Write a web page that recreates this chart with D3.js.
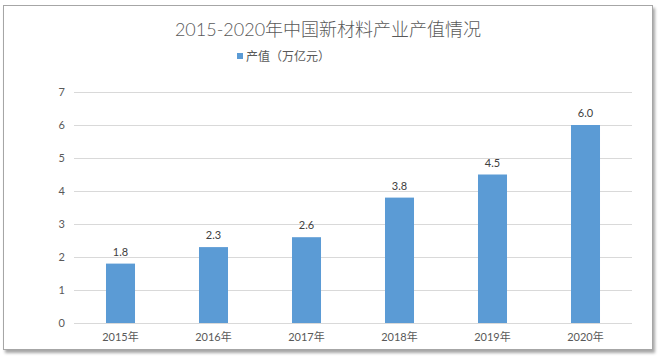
<!DOCTYPE html>
<html>
<head>
<meta charset="utf-8">
<script src="https://cdn.jsdelivr.net/npm/d3@7"></script>
<style>
  body { margin: 0; background: #fff; }
  svg { display: block; font-family: "Lato", "Noto Sans CJK SC", sans-serif; }
</style>
</head>
<body>
<div id="chart"></div>
<script>
// Chart data
const years = ["2015年", "2016年", "2017年", "2018年", "2019年", "2020年"];
const values = [1.8, 2.3, 2.6, 3.8, 4.5, 6.0];
const yTicks = [0, 1, 2, 3, 4, 5, 6, 7];
const title = "2015-2020年中国新材料产业产值情况";
const seriesName = "产值（万亿元）";

const width = 659, height = 361;
const margin = { left: 74, right: 27, top: 92, bottom: 38 };

const svg = d3.select("#chart").append("svg")
    .attr("width", width)
    .attr("height", height);

// Frame with shadow
const defs = svg.append("defs");
const shadow = defs.append("filter").attr("id", "shadow")
    .attr("x", "-5%").attr("y", "-5%").attr("width", "110%").attr("height", "115%");
shadow.append("feDropShadow")
    .attr("dx", 2).attr("dy", 3).attr("stdDeviation", 1.5)
    .attr("flood-color", "#000").attr("flood-opacity", 0.35);

svg.append("rect")
    .attr("x", 3.5).attr("y", 5.5)
    .attr("width", 649).attr("height", 344)
    .attr("fill", "#fff")
    .attr("stroke", "#a6a6a6")
    .attr("stroke-width", 1)
    .attr("filter", "url(#shadow)");

// Scales
const x = d3.scaleBand()
    .domain(years)
    .range([margin.left, width - margin.right])
    .paddingInner(0.688)
    .paddingOuter(0.344);

const y = d3.scaleLinear()
    .domain([0, 7])
    .range([height - margin.bottom, margin.top]);

// Gridlines
svg.append("g")
    .selectAll("line")
    .data(yTicks)
    .enter().append("line")
    .attr("x1", margin.left)
    .attr("x2", width - margin.right)
    .attr("y1", d => Math.round(y(d)) + 0.5)
    .attr("y2", d => Math.round(y(d)) + 0.5)
    .attr("stroke", "#d9d9d9")
    .attr("stroke-width", 1);

// Y axis labels
const yAxis = d3.axisLeft(y).tickValues(yTicks).tickFormat(d3.format("d")).tickSize(0).tickPadding(9);
svg.append("g")
    .attr("transform", `translate(${margin.left},0)`)
    .call(yAxis)
    .call(g => g.select(".domain").remove())
    .selectAll("text")
    .attr("fill", "#595959")
    .style("font-size", "11px")
    .style("font-family", "Lato, 'Noto Sans CJK SC', sans-serif");

// X axis labels
const xAxis = d3.axisBottom(x).tickSize(0).tickPadding(10);
svg.append("g")
    .attr("transform", `translate(0,${height - margin.bottom})`)
    .call(xAxis)
    .call(g => g.select(".domain").remove())
    .selectAll("text")
    .attr("fill", "#595959")
    .style("font-size", "11px")
    .style("font-family", "Lato, 'Noto Sans CJK SC', sans-serif");

// Bars
const data = years.map((yr, i) => ({ year: yr, value: values[i] }));

svg.append("g")
    .selectAll("rect")
    .data(data)
    .enter().append("rect")
    .attr("x", d => x(d.year))
    .attr("width", x.bandwidth())
    .attr("y", d => y(d.value))
    .attr("height", d => y(0) - y(d.value))
    .attr("fill", "#5b9bd5");

// Value labels
svg.append("g")
    .selectAll("text")
    .data(data)
    .enter().append("text")
    .attr("x", d => x(d.year) + x.bandwidth() / 2)
    .attr("y", d => y(d.value) - 8)
    .attr("text-anchor", "middle")
    .attr("fill", "#404040")
    .style("font-size", "11px")
    .text(d => d3.format(".1f")(d.value));

// Title
svg.append("text")
    .attr("x", 328)
    .attr("y", 36)
    .attr("text-anchor", "middle")
    .attr("fill", "#595959")
    .style("font-size", "18px")
    .style("font-weight", "300")
    .text(title);

// Legend
const legend = svg.append("g").attr("transform", "translate(237,57)");
legend.append("rect")
    .attr("x", 0).attr("y", -4)
    .attr("width", 6).attr("height", 6)
    .attr("fill", "#5b9bd5");
legend.append("text")
    .attr("x", 9)
    .attr("y", 4)
    .attr("fill", "#595959")
    .style("font-size", "12px")
    .text(seriesName);
</script>
</body>
</html>
